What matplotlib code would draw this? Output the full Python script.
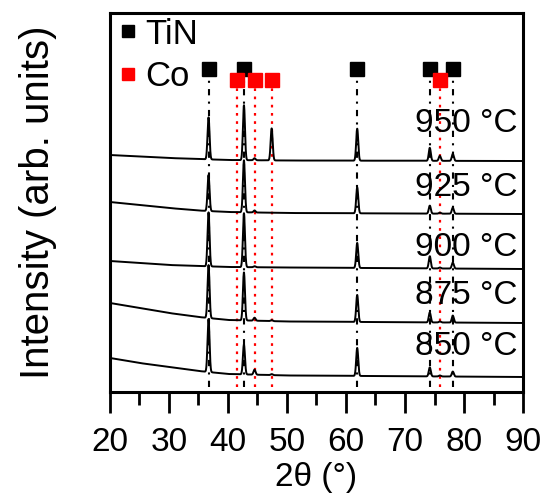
import numpy as np
import matplotlib
matplotlib.use("Agg")
from matplotlib import pyplot as plt
from matplotlib.lines import Line2D

plt.rcParams['font.family'] = ['Liberation Sans', 'DejaVu Sans']

# posiciones de picos (2theta)
tin_picos = [36.7, 42.7, 61.9, 74.2, 78.1]
co_picos = [41.6, 44.5, 47.4, 75.9]

temperaturas = ['950 °C', '925 °C', '900 °C', '875 °C', '850 °C']

fondo_x = [20, 25, 30, 35, 40, 50, 90]
fondo_950 = [237, 235.5, 234, 233, 232, 231.5, 231]
fondo_925 = [190, 187, 184, 181.5, 180, 179, 178]
fondo_900 = [131, 129, 127, 126, 125, 124.5, 123]
fondo_875 = [89, 84, 79, 75, 72, 70.5, 69]
fondo_850 = [34, 29, 25, 21, 18, 16.5, 15]

# alturas de picos: TiN (5) y Co (4)
tin_950 = [42, 55, 32, 13, 7]
tin_925 = [36, 52, 26, 8, 6]
tin_900 = [54, 54, 25, 12, 6]
tin_875 = [53, 48, 27, 10, 7]
tin_850 = [53, 30, 28, 9, 5]
co_950 = [0, 2, 32, 5]
co_925 = [0, 2, 0, 1]
co_900 = [0, 1, 0, 1]
co_875 = [0, 3, 1, 1]
co_850 = [0, 5, 1, 1]

# posicion de las etiquetas de temperatura
etiqueta_y = [269, 205, 144, 96, 45]

fondos = [fondo_950, fondo_925, fondo_900, fondo_875, fondo_850]
alturas_tin = [tin_950, tin_925, tin_900, tin_875, tin_850]
alturas_co = [co_950, co_925, co_900, co_875, co_850]

x = np.linspace(20, 90, 3500)
sigma = 0.17

fig = plt.figure(figsize=(5.44, 5.01), dpi=100)
ax = fig.add_axes([0.2022, 0.2176, 0.9614 - 0.2022, 0.974 - 0.2176])

for fondo, h_tin, h_co, temp, ty in zip(fondos, alturas_tin, alturas_co, temperaturas, etiqueta_y):
    y = np.interp(x, fondo_x, fondo)
    for p, h in zip(tin_picos + co_picos, h_tin + h_co):
        y = y + h * np.exp(-0.5 * ((x - p) / sigma) ** 2)
    ax.plot(x, y, color='black', lw=1.4, zorder=3)
    ax.text(89.1, ty, temp, ha='right', va='center', fontsize=24, zorder=4)

# lineas de referencia
for p in tin_picos:
    ax.plot([p, p], [5, 316], color='black', lw=1.5, ls=(0, (3, 3, 1, 3)), zorder=2)
    ax.plot(p, 323, marker='s', color='black', ms=9.5, zorder=5)
for p in co_picos:
    ax.plot([p, p], [5, 305], color='red', lw=1.6, ls=(0, (1.2, 2.5)), zorder=2)
    ax.plot(p, 312, marker='s', color='red', ms=9.5, zorder=5)

handles = [Line2D([], [], marker='s', color='black', ls='none', ms=9),
           Line2D([], [], marker='s', color='red', ls='none', ms=9)]
ax.legend(handles, ['TiN', 'Co'], loc='upper left', bbox_to_anchor=(0.0174, 0.997),
          frameon=False, fontsize=25, handlelength=0.4, handletextpad=0.3,
          labelspacing=0.28, borderaxespad=0.0, borderpad=0.1)

ax.set_xlim(20, 90)
ax.set_ylim(0, 379)
ax.set_xticks(range(20, 91, 10))
ax.set_xticks(range(25, 90, 10), minor=True)
ax.set_yticks([])
ax.tick_params(axis='x', which='major', direction='out', length=15, width=2, labelsize=24, pad=10)
ax.tick_params(axis='x', which='minor', direction='out', length=9, width=2)
for s in ax.spines.values():
    s.set_linewidth(2.2)
ax.set_xlabel('2θ (°)', fontsize=24, labelpad=3)
ax.set_ylabel('Intensity (arb. units)', fontsize=29, labelpad=38)

fig.savefig('out.png', dpi=100)
